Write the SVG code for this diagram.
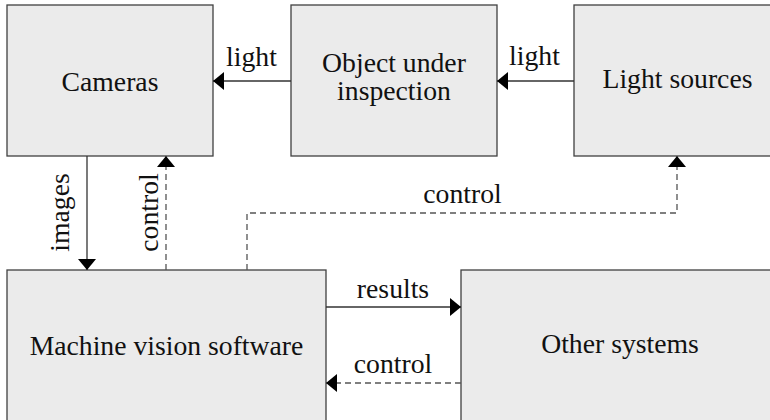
<svg xmlns="http://www.w3.org/2000/svg" width="770" height="420" viewBox="0 0 770 420">
  <style>
    .box { fill: #ebebeb; stroke: #404040; stroke-width: 1.3; }
    text { font-family: "Liberation Serif", "Times New Roman", serif; font-size: 27.7px; fill: #111; }
    .lbl { text-anchor: middle; }
    .solid { fill: none; stroke: #333; stroke-width: 1.3; }
    .dash { fill: none; stroke: #555; stroke-width: 1.3; stroke-dasharray: 6 4; }
  </style>
  <defs>
    <marker id="ah" markerUnits="userSpaceOnUse" markerWidth="12" markerHeight="20" viewBox="0 0 12 20" refX="11" refY="10" orient="auto">
      <path d="M0,1 L11,10 L0,19 Z" fill="#000"/>
    </marker>
  </defs>
  <rect width="770" height="420" fill="#fff"/>

  <g id="cameras">
    <rect class="box" x="7" y="5" width="206" height="151"/>
    <text class="lbl" x="110" y="91">Cameras</text>
  </g>
  <g id="object">
    <rect class="box" x="291" y="5" width="206" height="151"/>
    <text class="lbl" x="394" y="72">Object under</text>
    <text class="lbl" x="394" y="100">inspection</text>
  </g>
  <g id="lights">
    <rect class="box" x="574" y="5" width="207" height="151"/>
    <text class="lbl" x="677.5" y="88">Light sources</text>
  </g>
  <g id="software">
    <rect class="box" x="7" y="270" width="319" height="160"/>
    <text class="lbl" x="166.5" y="355">Machine vision software</text>
  </g>
  <g id="other">
    <rect class="box" x="461" y="270" width="319" height="160"/>
    <text class="lbl" x="620" y="353">Other systems</text>
  </g>

  <g id="connectors">
    <path class="solid" d="M291,81 H213" marker-end="url(#ah)"/>
    <path class="solid" d="M574,81 H497" marker-end="url(#ah)"/>
    <path class="solid" d="M87,156 V270" marker-end="url(#ah)"/>
    <path class="dash" d="M166,270 V156" marker-end="url(#ah)"/>
    <path class="dash" d="M247,270 V213 H677 V156" marker-end="url(#ah)"/>
    <path class="solid" d="M326,307 H461" marker-end="url(#ah)"/>
    <path class="dash" d="M461,383 H326" marker-end="url(#ah)"/>
    <text class="lbl" x="251.5" y="66">light</text>
    <text class="lbl" x="534.5" y="65">light</text>
    <text class="lbl" transform="translate(69,212.5) rotate(-90)">images</text>
    <text class="lbl" transform="translate(158,212.5) rotate(-90)">control</text>
    <text class="lbl" x="462.5" y="203">control</text>
    <text class="lbl" x="393" y="298">results</text>
    <text class="lbl" x="393" y="373">control</text>
  </g>
</svg>
